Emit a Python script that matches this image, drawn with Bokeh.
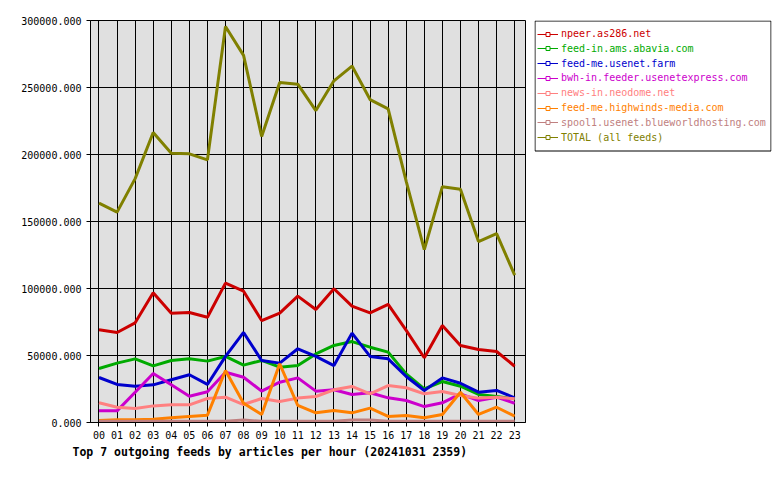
from bokeh.plotting import figure
from bokeh.layouts import row
from bokeh.models import (Legend, LegendItem, FixedTicker, BoxAnnotation,
                          PrintfTickFormatter, Range1d)
from bokeh.embed import file_html
from bokeh.resources import INLINE

hours = ["00", "01", "02", "03", "04", "05", "06", "07", "08", "09", "10", "11",
         "12", "13", "14", "15", "16", "17", "18", "19", "20", "21", "22", "23"]

npeer = [69200, 67200, 74400, 96800, 81600, 82100, 78600, 104000, 98000, 76100, 81600, 94300,
         84300, 99800, 86800, 81800, 88100, 68700, 48300, 72400, 57500, 54500, 53000, 42000]
abavia = [40300, 44300, 47500, 42300, 46300, 47500, 45800, 49300, 42800, 46300, 41300, 42500,
          51200, 57500, 60400, 56200, 52500, 36300, 25100, 30600, 27100, 20900, 19400, 17700]
usenetfarm = [33600, 28400, 27100, 28100, 31900, 35600, 28400, 49300, 67200, 46300, 44300, 55000,
              49300, 42500, 66700, 49300, 47500, 34300, 23900, 33300, 29300, 22600, 23900, 18400]
bwh = [8700, 8700, 22600, 36600, 28100, 19600, 22900, 37500, 33800, 23400, 30100, 33300,
       23400, 24400, 20900, 22200, 18400, 16400, 11900, 14700, 21400, 16400, 18900, 14400]
neodome = [14700, 11400, 10400, 12400, 13200, 13200, 17900, 18900, 13400, 17900, 15700, 18200,
           19400, 24400, 26900, 21400, 27600, 25900, 21400, 23100, 20100, 18200, 18900, 17700]
highwinds = [1500, 2000, 2000, 2500, 3500, 4500, 5500, 38800, 14400, 6000, 43800, 12700,
             7200, 9000, 7200, 10700, 4500, 5200, 3500, 6000, 22600, 6000, 11400, 4700]
spool1 = [900, 900, 900, 900, 900, 900, 900, 900, 1800, 900, 900, 900,
          900, 900, 1800, 1800, 900, 900, 900, 900, 900, 900, 900, 900]
total = [163700, 157000, 182000, 216400, 201000, 200500, 196000, 295500, 274000, 213400, 253700, 252500,
         232800, 255000, 266000, 241000, 234000, 180000, 129000, 176000, 174000, 135000, 141000, 110000]

names = ["npeer.as286.net", "feed-in.ams.abavia.com", "feed-me.usenet.farm",
         "bwh-in.feeder.usenetexpress.com", "news-in.neodome.net",
         "feed-me.highwinds-media.com", "spool1.usenet.blueworldhosting.com",
         "TOTAL (all feeds)"]
series = [npeer, abavia, usenetfarm, bwh, neodome, highwinds, spool1, total]
colors = ["#CC0000", "#00AA00", "#0000CC", "#CC00CC", "#FF8080", "#FF8000", "#C08080", "#808000"]
y_ticks = [0, 50000, 100000, 150000, 200000, 250000, 300000]

title = "Top 7 outgoing feeds by articles per hour (20241031 2359)"
MONO = "DejaVu Sans Mono"

x = list(range(len(hours)))

p = figure(width=527, height=480, output_backend="svg", toolbar_location=None,
           x_range=Range1d(-0.47, 23.6), y_range=Range1d(0, 300000),
           min_border_left=90, min_border_right=2, min_border_top=20,
           min_border_bottom=58, title=title, title_location="below")

p.background_fill_color = "#E0E0E0"
p.border_fill_color = "white"
p.outline_line_color = "black"
p.outline_line_width = 1

p.xaxis.ticker = FixedTicker(ticks=x)
p.xaxis.major_label_overrides = {i: h for i, h in enumerate(hours)}
p.yaxis.ticker = FixedTicker(ticks=y_ticks)
p.yaxis.formatter = PrintfTickFormatter(format="%.3f")
p.xgrid.ticker = FixedTicker(ticks=x)
p.ygrid.ticker = FixedTicker(ticks=y_ticks)
for g in (p.xgrid, p.ygrid):
    g.grid_line_color = "black"
    g.grid_line_width = 1
    g.grid_line_alpha = 1

for ax in (p.xaxis, p.yaxis):
    ax.axis_line_color = "black"
    ax.major_tick_line_color = "black"
    ax.major_tick_out = 4
    ax.major_tick_in = 0
    ax.minor_tick_line_color = None
    ax.major_label_text_font = MONO
    ax.major_label_text_font_size = "10px"
    ax.major_label_text_color = "black"
p.yaxis.major_label_standoff = 5
p.xaxis.major_label_standoff = 4

p.title.text_font = MONO
p.title.text_font_style = "bold"
p.title.text_font_size = "11.5px"
p.title.text_color = "black"
p.title.align = "left"
p.title.offset = -18
p.title.standoff = 2

for s, c in zip(series, colors):
    p.line(x, s, line_color=c, line_width=3)

# legend panel (same vertical borders as the chart so the row stays aligned)
lp = figure(width=253, height=480, output_backend="svg", toolbar_location=None,
            x_range=Range1d(0, 1), y_range=Range1d(0, 1),
            x_axis_type=None, y_axis_type=None,
            min_border_left=7, min_border_right=9, min_border_top=20,
            min_border_bottom=58)
lp.background_fill_color = "white"
lp.border_fill_color = "white"
lp.outline_line_color = None
lp.xgrid.visible = False
lp.ygrid.visible = False

box = BoxAnnotation(left=7.5, right=243.5, top=20.5, bottom=150.5,
                    left_units="canvas", right_units="canvas",
                    top_units="canvas", bottom_units="canvas",
                    fill_color="white", fill_alpha=1,
                    line_color="black", line_width=1, line_alpha=1)
lp.add_layout(box)

nan = float("nan")
for i, (n, c) in enumerate(zip(names, colors)):
    lr = lp.line([nan], [nan], line_color=c, line_width=1)
    sr = lp.scatter([nan], [nan], marker="square", size=4, line_color=c, fill_color="white")
    yc = 34 + 14.8 * i
    lg = Legend(items=[LegendItem(label=n, renderers=[lr, sr])],
                location=(3, 417 - yc), padding=0, margin=0, spacing=0,
                border_line_alpha=0, background_fill_alpha=0,
                glyph_width=21, glyph_height=10, label_standoff=3, label_height=10,
                label_text_font=MONO, label_text_font_size="10px",
                label_text_color=c)
    lp.add_layout(lg)

layout = row(p, lp, spacing=0)
open("out.html", "w").write(file_html(layout, INLINE))
